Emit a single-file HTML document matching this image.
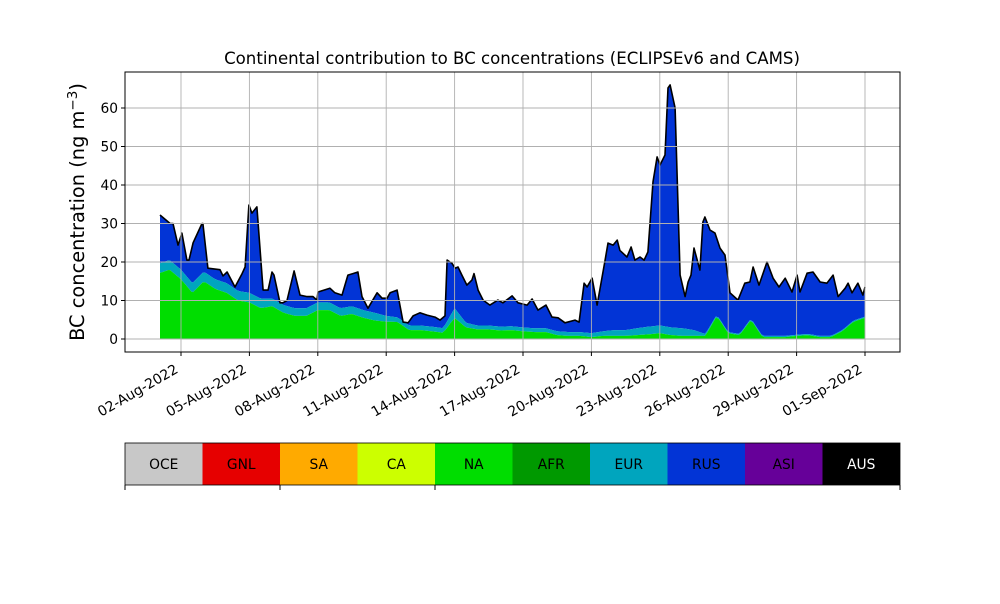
<!DOCTYPE html>
<html><head><meta charset="utf-8"><style>
body{margin:0;background:#fff;font-family:"DejaVu Sans","Liberation Sans",sans-serif}
svg text{font-family:"DejaVu Sans","Liberation Sans",sans-serif}
</style></head><body>
<svg id="c" width="1000" height="600" viewBox="0 0 1000 600" xmlns="http://www.w3.org/2000/svg"></svg>
<script>
const totalT=[0.08,0.52,0.65,0.87,1.04,1.26,1.35,1.53,1.92,1.96,2.18,2.71,2.84,3.02,3.37,3.68,3.81,3.98,4.11,4.33,4.6,4.82,4.99,5.08,5.34,5.47,5.65,5.96,6.22,6.53,6.79,6.96,7.01,7.53,7.75,8.06,8.32,8.54,8.76,8.94,9.2,9.6,9.82,10.04,10.17,10.48,10.74,10.96,11.18,11.48,11.79,12.14,12.36,12.58,12.67,12.8,12.88,13.02,13.15,13.32,13.54,13.76,13.85,14.03,14.25,14.55,14.9,15.12,15.52,15.78,16.18,16.4,16.66,17.01,17.27,17.54,17.84,18.28,18.46,18.68,18.81,19.03,19.25,19.6,19.73,19.95,20.13,20.25,20.56,20.74,20.91,21.13,21.31,21.48,21.57,21.7,21.88,22.01,22.23,22.36,22.45,22.67,22.89,23.11,23.24,23.37,23.5,23.76,23.89,23.98,24.2,24.42,24.64,24.86,25.08,25.43,25.73,25.95,26.09,26.35,26.7,26.97,27.23,27.5,27.8,28.02,28.15,28.46,28.72,29.03,29.33,29.6,29.82,30.13,30.26,30.43,30.69,30.91,31.0];
const totalV=[32.2,30,30,24.4,27.5,20.5,20.5,25,30,30,18.4,18,16.4,17.4,13.5,17,18.7,34.8,32.7,34.3,12.7,12.7,17.4,16.6,9.4,9.4,10,17.7,11.4,11,11,10.1,12.2,13.2,12,11.4,16.6,17,17.4,11,8,12,10.6,10.6,12,12.7,4.4,4.2,6,6.8,6.2,5.7,4.9,6,20.5,20,19.7,18.4,18.7,16.6,14,15.3,17,12.7,10.1,8.8,10.1,9.4,11.2,9.4,8.8,10.4,7.5,8.8,5.7,5.5,4.2,4.9,4.4,14.5,13.5,15.8,8.8,20.5,24.9,24.4,25.7,23,21.3,23.9,20.5,21.3,20.5,22.6,30,40.8,47.3,45.2,47.8,65.2,66,60,16.6,11,14.8,16.6,23.6,17.9,30.4,31.7,28.3,27.5,23.6,21.8,12,10.1,14.5,14.8,18.7,14,20,15.8,13.5,15.8,12.2,16.6,12.2,17.1,17.4,14.8,14.5,16.6,11,13.2,14.5,12,14.5,11.4,13.5,11.4];
const naV=[17,18,15.5,12,15,13,12,10,9.5,8,8.5,6.8,6,6,7.5,7.5,6,6.5,5.5,4.8,4.5,4.4,2.3,2.3,2,1.6,5.5,3,2.5,2.5,2.2,2.3,2,1.8,1.8,1,0.8,0.8,0.5,0.8,0.8,0.8,1,1.2,1.5,1,0.8,0.8,0.8,6,1.5,1,5,0.5,0.5,0.5,0.8,1,0.5,0.5,2,4.5,5.5];
const eurV=[2.5,2.5,2.5,2.5,2.5,2.5,2.5,2.5,2.5,2.5,2,2,2,2,2,2,2,2,2,2,1.5,1.2,1.2,1.2,1.2,1.2,2.5,1.2,1,1,1,1,1,1,1,1,1,1,1,1.2,1.5,1.5,1.8,2,2,2,2,1.5,0.5,0.3,0.3,0.3,0.3,0.3,0.3,0.3,0.3,0.3,0.3,0.3,0.3,0.3,0.3];
const yTicks=[0,10,20,30,40,50,60];
const xTickDays=[1,4,7,10,13,16,19,22,25,28,31];
const xTickLabels=["02-Aug-2022","05-Aug-2022","08-Aug-2022","11-Aug-2022","14-Aug-2022","17-Aug-2022","20-Aug-2022","23-Aug-2022","26-Aug-2022","29-Aug-2022","01-Sep-2022"];
const legendNames=["OCE","GNL","SA","CA","NA","AFR","EUR","RUS","ASI","AUS"];
const legendColors=["#c8c8c8","#e60000","#ffaa00","#ccff00","#00dd00","#009900","#00a5be","#0234d6","#660099","#000000"];

const svg=document.getElementById('c');const NS="http://www.w3.org/2000/svg";
const L=125,R=900,T=72,B=352;
const X=d=>158.2+d*22.8;
const Y=v=>339-v*3.85;
function mk(tag,attrs,parent){const e=document.createElementNS(NS,tag);for(const k in attrs)e.setAttribute(k,attrs[k]);(parent||svg).appendChild(e);return e;}
function interp(t,ts,vs){if(t<=ts[0])return vs[0];for(let i=1;i<ts.length;i++){if(t<=ts[i]){const f=(t-ts[i-1])/(ts[i]-ts[i-1]);return vs[i-1]+f*(vs[i]-vs[i-1]);}}return vs[vs.length-1];}
const gridT=naV.map((_,i)=>i*0.5);
const naAt=t=>Math.min(interp(t,gridT,naV),interp(t,totalT,totalV));
const eurAt=t=>Math.min(naAt(t)+interp(t,gridT,eurV),interp(t,totalT,totalV));
const ts=[];for(let t=0.08;t<=31.0001;t+=0.125)ts.push(+t.toFixed(3));
const allT=[...new Set([...ts,...totalT])].sort((a,b)=>a-b);
function area(upper,lower,color,name){let d="M"+allT.map(t=>X(t).toFixed(1)+","+Y(upper(t)).toFixed(1)).join("L");
for(let i=allT.length-1;i>=0;i--){d+="L"+X(allT[i]).toFixed(1)+","+Y(lower(allT[i])).toFixed(1);}
const p=mk('path',{d:d+"Z",fill:color,stroke:'none'});

}
const totAt=t=>interp(t,totalT,totalV);
area(totAt,eurAt,"#0234d6","area-rus");
area(eurAt,naAt,"#00a5be","area-eur");
area(naAt,()=>0,"#00dd00","area-na");
const ln=mk('path',{d:"M"+totalT.map((t,i)=>X(t).toFixed(1)+","+Y(totalV[i]).toFixed(1)).join("L"),fill:'none',stroke:'#000','stroke-width':1.6,'stroke-linejoin':'round'});


yTicks.forEach(v=>{const g=mk('line',{x1:L,x2:R,y1:Y(v),y2:Y(v),stroke:'#b0b0b0','stroke-width':0.9});


mk('line',{x1:L-4,x2:L,y1:Y(v),y2:Y(v),stroke:'#000'});
const tx=mk('text',{x:L-7,y:Y(v)+5,'text-anchor':'end','font-size':13.8});tx.textContent=v;

});
xTickDays.forEach((d,i)=>{const x=X(d);const g=mk('line',{x1:x,x2:x,y1:T,y2:B,stroke:'#b0b0b0','stroke-width':0.9});


mk('line',{x1:x,x2:x,y1:B,y2:B+4,stroke:'#000'});
const ex=x-2,ey=B+20;
const tx=mk('text',{x:ex,y:ey,'text-anchor':'end','font-size':13.9,transform:`rotate(-30 ${ex} ${ey})`});tx.textContent=xTickLabels[i];

});
const fr=mk('rect',{x:L,y:T,width:R-L,height:B-T,fill:'none',stroke:'#000','stroke-width':1});


const ti=mk('text',{x:512,y:64,'text-anchor':'middle','font-size':16.6});ti.textContent="Continental contribution to BC concentrations (ECLIPSEv6 and CAMS)";


const yl=mk('text',{x:0,y:0,'text-anchor':'middle','font-size':19.4,transform:'translate(84,212) rotate(-90)'});
yl.innerHTML='BC concentration (ng m<tspan dy="-7" font-size="13.5">−3</tspan><tspan dy="7">)</tspan>';


const w=(R-L)/legendNames.length;
legendNames.forEach((n,i)=>{const r=mk('rect',{x:L+i*w,y:443,width:w,height:42,fill:legendColors[i]});


const t=mk('text',{x:L+i*w+w/2,y:469,'text-anchor':'middle','font-size':13.8,fill:n==="AUS"?"#fff":"#000"});t.textContent=n;

});
mk('rect',{x:L,y:443,width:R-L,height:42,fill:'none',stroke:'#000','stroke-width':0.8});
[125,280,435,900].forEach(x=>mk('line',{x1:x,x2:x,y1:485,y2:490,stroke:'#000'}));
</script>
</body></html>
